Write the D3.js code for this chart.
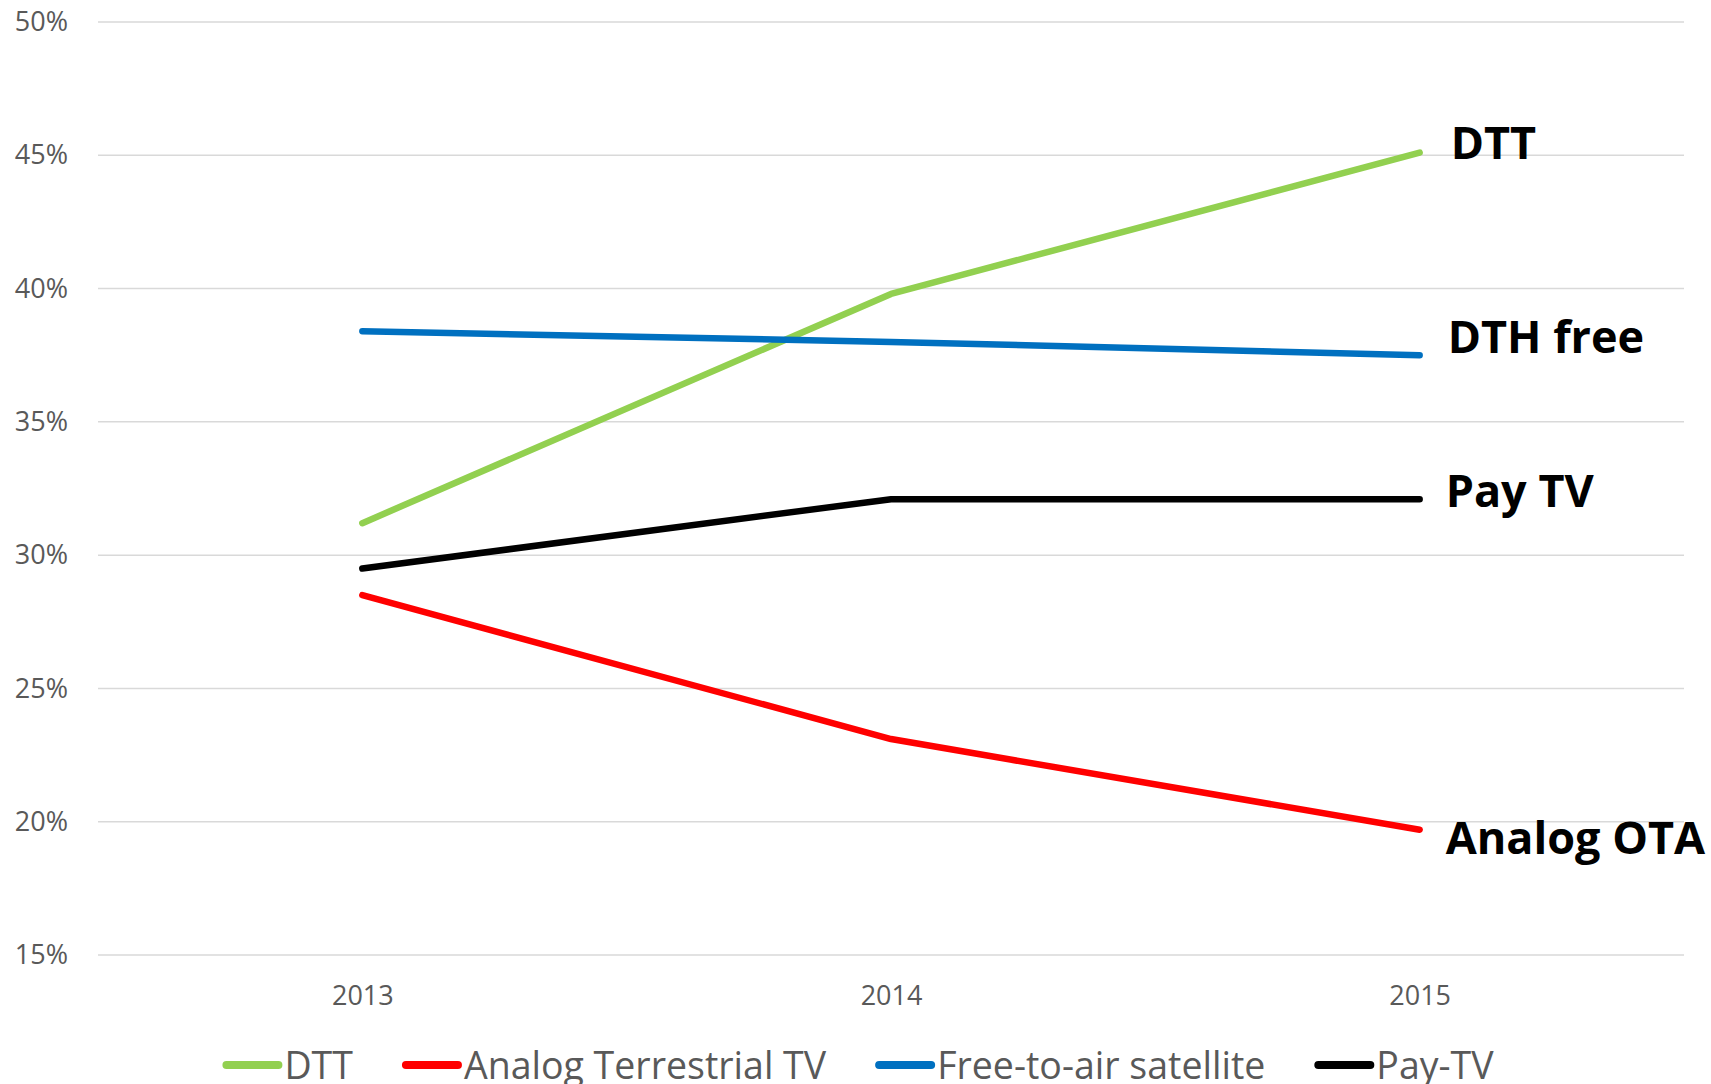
<!DOCTYPE html>
<html>
<head>
<meta charset="utf-8">
<script src="https://cdn.jsdelivr.net/npm/d3@7"></script>
<style>
  html, body { margin: 0; padding: 0; background: #fff; }
  svg { display: block; }
</style>
</head>
<body>
<svg id="chart" width="1711" height="1084"></svg>
<script>
// ---- data ----
const years = ["2013", "2014", "2015"];
const seriesNames = ["DTT", "Analog Terrestrial TV", "Free-to-air satellite", "Pay-TV"];
const dttValues = [31.2, 39.8, 45.1];
const analogValues = [28.5, 23.1, 19.7];
const satelliteValues = [38.4, 38.0, 37.5];
const payTvValues = [29.5, 32.1, 32.1];
const endLabels = ["DTT", "Analog OTA", "DTH free", "Pay TV"];
const yTicks = [15, 20, 25, 30, 35, 40, 45, 50];

// ---- layout / style ----
const colors = ["#92D050", "#FF0000", "#0070C0", "#000000"];
const labelDy = [6, 24, -2, 8];
const labelDx = [31, 26, 28, 26];
const W = 1711, H = 1084;
const plot = { left: 98, right: 1684, top: 22, bottom: 955 };

const series = seriesNames.map((name, i) => ({
  name,
  values: [dttValues, analogValues, satelliteValues, payTvValues][i],
  color: colors[i],
  label: endLabels[i],
  dy: labelDy[i],
  dx: labelDx[i]
}));

const svg = d3.select("#chart");

const x = d3.scalePoint().domain(years).range([plot.left, plot.right]).padding(0.5);
const y = d3.scaleLinear().domain([15, 50]).range([plot.bottom, plot.top]);

// gridlines
svg.append("g")
  .selectAll("line")
  .data(yTicks)
  .join("line")
  .attr("x1", plot.left).attr("x2", plot.right)
  .attr("y1", d => y(d)).attr("y2", d => y(d))
  .attr("stroke", "#D9D9D9").attr("stroke-width", 1.5);

// y axis labels
const yAxis = d3.axisLeft(y).tickValues(yTicks).tickFormat(d => d + "%").tickSize(0).tickPadding(0);
const yg = svg.append("g").attr("transform", "translate(68,0)").call(yAxis);
yg.select(".domain").remove();
yg.selectAll("text")
  .attr("font-family", "'Open Sans', sans-serif")
  .attr("font-size", 27)
  .attr("fill", "#595959");

// x axis labels
const xAxis = d3.axisBottom(x).tickSize(0).tickPadding(0);
const xg = svg.append("g").attr("transform", "translate(0,986)").call(xAxis);
xg.select(".domain").remove();
xg.selectAll("text")
  .attr("font-family", "'Open Sans', sans-serif")
  .attr("font-size", 27)
  .attr("fill", "#595959");

// lines
const line = d3.line().x((d, i) => x(years[i])).y(d => y(d));
const order = [1, 3, 0, 2];
svg.append("g")
  .selectAll("path")
  .data(order.map(i => series[i]))
  .join("path")
  .attr("d", d => line(d.values))
  .attr("fill", "none")
  .attr("stroke", d => d.color)
  .attr("stroke-width", 6.5)
  .attr("stroke-linecap", "round")
  .attr("stroke-linejoin", "round");

// end labels
svg.append("g")
  .selectAll("text")
  .data(series)
  .join("text")
  .attr("x", d => x(years[years.length - 1]) + d.dx)
  .attr("y", d => y(d.values[d.values.length - 1]) + d.dy)
  .attr("font-family", "'Open Sans', sans-serif")
  .attr("font-weight", "bold")
  .attr("font-size", 45)
  .attr("fill", "#000")
  .text(d => d.label);

// legend
const legend = svg.append("g");
const items = legend.selectAll("g").data(series).join("g");
items.append("line")
  .attr("x1", 4).attr("x2", 56)
  .attr("y1", 0).attr("y2", 0)
  .attr("stroke", d => d.color)
  .attr("stroke-width", 8)
  .attr("stroke-linecap", "round");
items.append("text")
  .attr("x", 62)
  .attr("y", 0)
  .attr("dy", "0.36em")
  .attr("font-family", "'Open Sans', sans-serif")
  .attr("font-size", 37.5)
  .attr("fill", "#595959")
  .text(d => d.name);

let cx = 0;
const gap = 49;
items.each(function () {
  const g = d3.select(this);
  const tw = g.select("text").node().getComputedTextLength();
  g.attr("transform", `translate(${cx},0)`);
  cx += 62 + tw + gap;
});
const totalW = cx - gap;
legend.attr("transform", `translate(${W / 2 - totalW / 2 + 2.5},1065)`);
</script>
</body>
</html>
